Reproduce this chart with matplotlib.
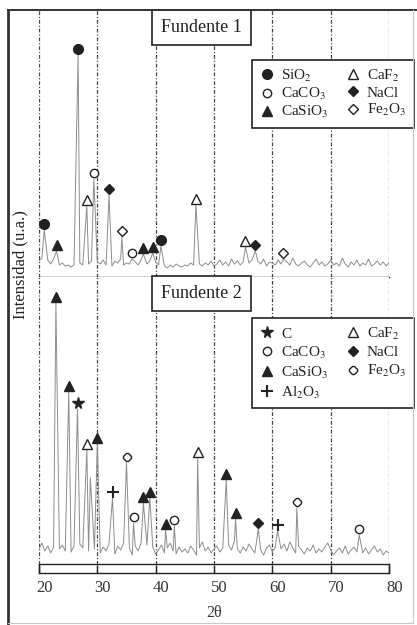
import matplotlib

matplotlib.use("Agg")
import matplotlib.pyplot as plt
import numpy as np
from matplotlib.lines import Line2D
from matplotlib.transforms import ScaledTranslation

# XRD patterns of the two fluxes (intensity in arbitrary units)
baseline_angles = np.linspace(20, 80, 121)

top_baseline = [
    16, 19, 14, 17, 13, 18, 15, 12, 14, 11, 12,
    10, 12, 11, 14, 12, 15, 13, 16, 12, 15,
    13, 17, 12, 15, 11, 16, 14, 18, 12, 14,
    13, 11, 15, 12, 17, 14, 13, 16, 12, 15,
    12, 10, 11, 9, 12, 10, 13, 11, 10, 12,
    11, 14, 12, 10, 13, 11, 14, 12, 16, 11,
    13, 17, 12, 15, 11, 18, 13, 16, 12, 15,
    19, 14, 17, 12, 16, 13, 18, 11, 15, 14,
    12, 17, 13, 11, 15, 12, 19, 13, 11, 14,
    16, 12, 10, 14, 18, 12, 15, 11, 13, 17,
    12, 14, 11, 19, 13, 10, 15, 12, 17, 11,
    14, 12, 18, 11, 13, 16, 12, 15, 11, 14,
]
top_peak_angles = [20.9, 23.0, 26.7, 28.2, 29.4, 32.0, 34.2, 35.9, 37.9, 39.5,
                   40.9, 46.9, 55.4, 57.1, 61.9]
top_peak_heights = [47, 26, 222, 71, 98, 82, 40, 18, 23, 24, 31, 72, 30, 26, 18]
top_peak_phases = ["SiO2", "CaSiO3", "SiO2", "CaF2", "CaCO3", "NaCl", "Fe2O3",
                   "CaCO3", "CaSiO3", "CaSiO3", "SiO2", "CaF2", "CaF2", "NaCl",
                   "Fe2O3"]

bottom_baseline = [
    24, 30, 22, 27, 20, 26, 32, 24, 28, 22, 25,
    21, 27, 23, 29, 25, 31, 22, 26, 24, 28,
    20, 26, 22, 29, 24, 19, 27, 23, 30, 21,
    25, 18, 27, 22, 30, 24, 28, 20, 26, 19,
    23, 28, 20, 25, 30, 22, 19, 26, 21, 24,
    20, 27, 23, 18, 25, 31, 22, 26, 20, 24,
    27, 21, 25, 19, 28, 23, 32, 24, 20, 26,
    22, 29, 24, 20, 27, 23, 18, 25, 28, 21,
    26, 20, 24, 29, 22, 31, 25, 20, 27, 23,
    19, 25, 22, 28, 20, 24, 21, 26, 30, 23,
    18, 22, 25, 20, 27, 19, 23, 26, 21, 24,
    20, 25, 19, 23, 27, 21, 24, 18, 22, 20,
]
bottom_peak_angles = [22.9, 25.1, 26.6, 28.2, 28.8, 30.0, 32.6, 35.0, 36.2, 37.9,
                      39.0, 41.7, 43.2, 47.2, 52.1, 53.7, 57.6, 60.9, 64.2, 74.9]
bottom_peak_heights = [270, 181, 164, 123, 95, 129, 75, 110, 50, 70,
                       75, 43, 47, 115, 93, 54, 44, 42, 65, 38]
bottom_peak_phases = ["CaSiO3", "CaSiO3", "C", "CaF2", None, "CaSiO3", "Al2O3",
                      "Fe2O3", "CaCO3", "CaSiO3", "CaSiO3", "CaSiO3", "CaCO3",
                      "CaF2", "CaSiO3", "CaSiO3", "NaCl", "Al2O3", "Fe2O3", "CaCO3"]

top_legend_phases = ["SiO2", "CaCO3", "CaSiO3", "CaF2", "NaCl", "Fe2O3"]
bottom_legend_phases = ["C", "CaCO3", "CaSiO3", "Al2O3", "CaF2", "NaCl", "Fe2O3"]

x_ticks = [20, 30, 40, 50, 60, 70, 80]

phase_labels = {
    "SiO2": "SiO$_2$",
    "CaCO3": "CaCO$_3$",
    "CaSiO3": "CaSiO$_3$",
    "CaF2": "CaF$_2$",
    "NaCl": "NaCl",
    "Fe2O3": "Fe$_2$O$_3$",
    "C": "C",
    "Al2O3": "Al$_2$O$_3$",
}

INK = "#222222"
phase_styles = {
    "SiO2": dict(marker="o", markersize=7, markerfacecolor=INK),
    "CaCO3": dict(marker="o", markersize=6, markerfacecolor="white"),
    "CaSiO3": dict(marker="^", markersize=6.5, markerfacecolor=INK),
    "CaF2": dict(marker="^", markersize=6.5, markerfacecolor="white"),
    "NaCl": dict(marker="D", markersize=5, markerfacecolor=INK),
    "Fe2O3": dict(marker="D", markersize=5, markerfacecolor="white"),
    "C": dict(marker="*", markersize=8.5, markerfacecolor=INK),
    "Al2O3": dict(marker="+", markersize=8, markeredgewidth=1.5),
}
bottom_style_overrides = {"Fe2O3": dict(marker="8", markersize=5.5, markerfacecolor="white")}

MARKER_OFFSET = 6

plt.rcParams["font.family"] = ["Liberation Serif", "DejaVu Serif"]
plt.rcParams["mathtext.fontset"] = "stix"

W, H = 417, 625


def build_trace(baseline, peak_angles, peak_heights):
    peaks = np.array(peak_angles)
    keep = [np.min(np.abs(peaks - a)) > 0.2 for a in baseline_angles]
    angles = np.concatenate([baseline_angles[keep], peaks])
    values = np.concatenate([np.array(baseline)[keep], peak_heights])
    order = np.argsort(angles, kind="stable")
    return angles[order], values[order]


def style_for(phase, overrides):
    style = dict(linestyle="none", markeredgecolor=INK, markeredgewidth=1.0)
    style.update(phase_styles[phase])
    style.update(overrides.get(phase, {}))
    return style


def draw_panel(ax, baseline, angles, heights, phases, legend_phases, overrides,
               title, title_y, legend_box, row_gap):
    ax.set_xlim(20, 80)
    for x in x_ticks:
        ax.axvline(x, color="#444444", lw=0.9, linestyle=(0, (3, 1.5, 1, 1.5)), zorder=0)

    trace_x, trace_y = build_trace(baseline, angles, heights)
    ax.plot(trace_x, trace_y, color="#8c8c8c", lw=0.7, zorder=2)

    for angle, height, phase in zip(angles, heights, phases):
        if phase is None:
            continue
        ax.plot([angle], [height + MARKER_OFFSET], zorder=3, **style_for(phase, overrides))

    ax.text(47.9, title_y, title, transform=ax.get_xaxis_transform(), ha="center",
            va="center", fontsize=13, color=INK, zorder=5,
            bbox=dict(boxstyle="square,pad=0.5", facecolor="white", edgecolor=INK, lw=1.2))

    handles = [Line2D([], [], label=phase_labels[p], **style_for(p, overrides))
               for p in legend_phases]
    leg = ax.legend(handles=handles, ncol=2, loc="upper left", bbox_to_anchor=legend_box,
                    mode="expand", borderaxespad=0, fontsize=11, labelspacing=row_gap,
                    handlelength=1.0, handletextpad=0.4, columnspacing=0.8,
                    borderpad=0.5, fancybox=False, framealpha=1, edgecolor=INK)
    leg.get_frame().set_linewidth(1.2)
    for t in leg.get_texts():
        t.set_color(INK)
    leg.set_zorder(6)

    for side in ["left", "right", "top"]:
        ax.spines[side].set_visible(False)
    ax.set_yticks([])


def main():
    fig = plt.figure(figsize=(W / 100, H / 100), dpi=100, facecolor="white")

    left, width = 39 / W, 350 / W
    ax_top = fig.add_axes([left, 1 - 277 / H, width, 267 / H])
    ax_bot = fig.add_axes([left, 1 - 573 / H, width, 296 / H])
    ax_top.set_ylim(0, 267)
    ax_bot.set_ylim(0, 296)

    draw_panel(ax_top, top_baseline, top_peak_angles, top_peak_heights, top_peak_phases,
               top_legend_phases, {}, "Fundente 1", 0.934,
               (0.609, 0.58, 0.462, 0.233), 0.15)
    draw_panel(ax_bot, bottom_baseline, bottom_peak_angles, bottom_peak_heights,
               bottom_peak_phases, bottom_legend_phases, bottom_style_overrides,
               "Fundente 2", 0.945, (0.609, 0.561, 0.462, 0.30), 0.25)

    ax_top.spines["bottom"].set_color(INK)
    ax_top.spines["bottom"].set_linewidth(1.0)
    ax_top.set_xticks([])

    # bottom axis box with double line
    ax_bot.spines["bottom"].set_color(INK)
    ax_bot.spines["bottom"].set_linewidth(1.0)
    ax_bot.plot([20, 80], [9, 9], color=INK, lw=1.0, clip_on=False)
    ax_bot.plot([20, 20], [0, 9], color=INK, lw=1.0, clip_on=False)
    ax_bot.plot([80, 80], [0, 9], color=INK, lw=1.0, clip_on=False)
    ax_bot.set_xticks(x_ticks)
    ax_bot.tick_params(axis="x", direction="in", length=6, width=1.0, color=INK,
                       labelsize=12, labelcolor="#333333", pad=5)
    shift = ScaledTranslation(4 / 72, 0, fig.dpi_scale_trans)
    for lab in ax_bot.get_xticklabels():
        lab.set_transform(lab.get_transform() + shift)

    fig.text(214 / W, 1 - 613 / H, "2θ", ha="center", va="center", fontsize=11.5,
             color="#333333")
    fig.text(20 / W, 1 - 265 / H, "Intensidad (u.a.)", rotation=90, ha="center",
             va="center", fontsize=12, color=INK)

    # page frame
    fig.add_artist(Line2D([8 / W, 8 / W], [0, 1 - 10 / H], transform=fig.transFigure,
                          color="#333333", lw=2.0))
    fig.add_artist(Line2D([8 / W, 1], [1 - 10 / H, 1 - 10 / H], transform=fig.transFigure,
                          color="#333333", lw=1.4))
    fig.add_artist(Line2D([413 / W, 413 / W], [1 - 623 / H, 1 - 10 / H],
                          transform=fig.transFigure, color="#c8c8c8", lw=0.8))
    fig.add_artist(Line2D([8 / W, 413 / W], [1 - 623 / H, 1 - 623 / H],
                          transform=fig.transFigure, color="#c8c8c8", lw=0.8))

    fig.savefig("out.png", dpi=100, facecolor="white")
    plt.close(fig)


if __name__ == "__main__":
    main()
